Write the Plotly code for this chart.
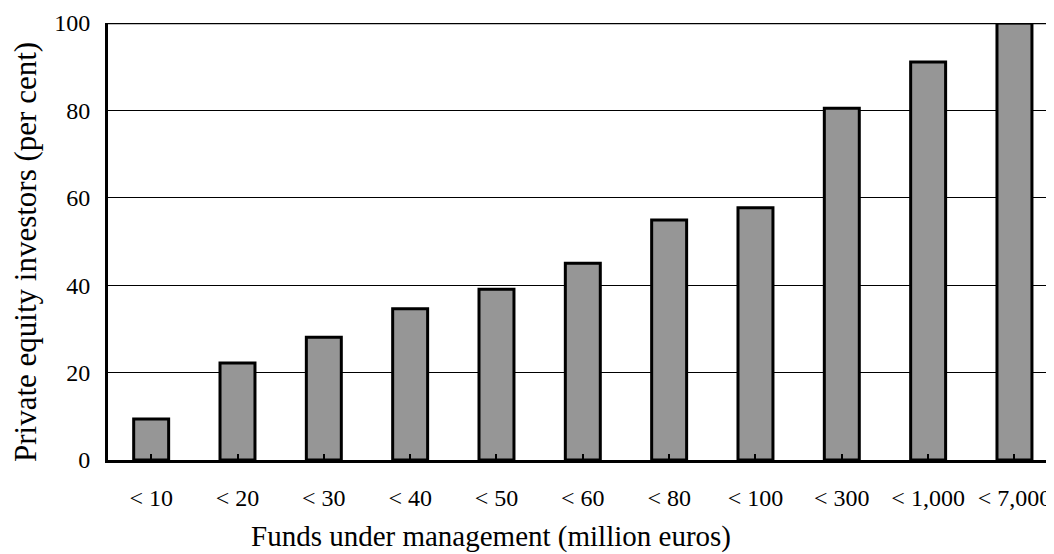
import plotly.graph_objects as go

categories = ["< 10", "< 20", "< 30", "< 40", "< 50", "< 60", "< 80", "< 100", "< 300", "< 1,000", "< 7,000"]
values = [9.4, 22.2, 28.1, 34.6, 39.1, 45.0, 54.9, 57.7, 80.5, 91.1, 100.0]
y_ticks = [0, 20, 40, 60, 80, 100]

# page body adds an 8px margin; size the figure so it fills the 1054x554 window
OFF = 8
W, H = 1054 - OFF, 554 - OFF
ml, mr, mt, mb = 108 - OFF, 0, 23 - OFF, 94
plot_w = W - ml - mr
plot_h = H - mt - mb
spacing = 86.33
x_hi = -0.5 + plot_w / spacing

font = "Liberation Serif, Times New Roman, serif"


def px_x(sx):
    return (sx - OFF - ml) / plot_w


def px_y(sy):
    return 1 - (sy - OFF - mt) / plot_h


fig = go.Figure(go.Bar(
    x=list(range(len(categories))), y=values,
    width=0.405,
    marker=dict(color="#969696", line=dict(color="black", width=3)),
))

fig.update_layout(
    width=W, height=H,
    margin=dict(l=ml, r=mr, t=mt, b=mb, autoexpand=False),
    plot_bgcolor="white", paper_bgcolor="white",
    showlegend=False,
    font=dict(family=font, size=24, color="black"),
    xaxis=dict(
        range=[-0.5, x_hi], automargin=False,
        tickmode="array", tickvals=list(range(len(categories))), ticktext=categories,
        tickson="boundaries", ticks="inside", ticklen=6, tickwidth=2, tickcolor="black",
        showline=True, linecolor="black", linewidth=3,
        showgrid=False, zeroline=False,
        ticklabelstandoff=14,
        tickfont=dict(size=24),
    ),
    yaxis=dict(
        range=[0, 100], automargin=False,
        tickmode="array", tickvals=y_ticks,
        showline=True, linecolor="black", linewidth=3,
        showgrid=True, gridcolor="black", gridwidth=1,
        zeroline=False, ticks="outside", ticklen=10, tickcolor="rgba(0,0,0,0)",
        tickfont=dict(size=24),
    ),
    shapes=[dict(type="line", xref="paper", yref="y", x0=0, x1=1, y0=100, y1=100,
                 line=dict(color="black", width=2.5))],
    annotations=[
        dict(text="Funds under management (million euros)", xref="paper", yref="paper",
             x=px_x(491), y=px_y(536),
             xanchor="center", yanchor="middle", showarrow=False, font=dict(size=29)),
        dict(text="Private equity investors (per cent)", xref="paper", yref="paper",
             x=px_x(25), y=px_y(252),
             xanchor="center", yanchor="middle", textangle=-90, showarrow=False,
             font=dict(size=31)),
    ],
)

fig.write_html("out.html")
